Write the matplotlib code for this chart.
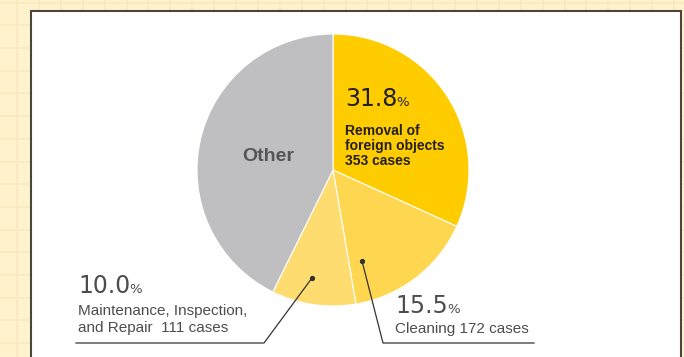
import numpy as np
import matplotlib
matplotlib.use("Agg")
import matplotlib.pyplot as plt
from matplotlib.patches import Rectangle

# share of cases by type of work (%), and case counts
categories = ["Removal of foreign objects", "Cleaning",
              "Maintenance, Inspection, and Repair", "Other"]
shares = [31.8, 15.5, 10.0, 42.7]
cases = [353, 172, 111, 474]
colors = ["#FFCC00", "#FFD64F", "#FFDC70", "#BFBFC1"]

W, H = 684, 357
plt.rcParams["font.family"] = ["Liberation Sans", "DejaVu Sans"]

fig = plt.figure(figsize=(W / 100, H / 100), dpi=100, facecolor="#FFF2CC")
ax = fig.add_axes([0, 0, 1, 1])
ax.set_facecolor("#FFF2CC")


def yy(y):
    # pixel row from the top -> data y
    return H - y


# background grid paper
for x in np.arange(17, W, 21.9):
    ax.plot([x, x], [0, H], color="#F8E9BE", lw=1.2, zorder=0)
for y in np.arange(2.6, H, 22.7):
    ax.plot([0, W], [yy(y), yy(y)], color="#F8E9BE", lw=1.2, zorder=0)

# white card with a dark frame
ax.add_patch(Rectangle((31, -5), 650, yy(11) + 5, facecolor="white",
                       edgecolor="#4A463E", lw=1.5, zorder=1))

wedges, _ = ax.pie(shares, colors=colors, startangle=90, counterclock=False,
                   center=(333, yy(170)), radius=136,
                   wedgeprops=dict(edgecolor="white", linewidth=0.8))
for w in wedges:
    w.set_zorder(2)

ax.set_xlim(0, W)
ax.set_ylim(0, H)
ax.set_aspect("auto")
ax.axis("off")

fig.canvas.draw()
renderer = fig.canvas.get_renderer()


def big_pct(x, y, value, color):
    t = ax.text(x, yy(y), f"{value:.1f}", fontsize=17, color=color,
                family="DejaVu Sans", va="baseline", ha="left", zorder=5)
    bb = t.get_window_extent(renderer).transformed(ax.transData.inverted())
    ax.text(bb.x1 - 1, yy(y), "%", fontsize=9.5, color=color,
            family="DejaVu Sans", va="baseline", ha="left", zorder=5)


# removal of foreign objects (inside the slice)
big_pct(345, 106, shares[0], "#231F20")
for i, line in enumerate(["Removal of", "foreign objects", f"{cases[0]} cases"]):
    ax.text(345, yy(135 + 15 * i), line, fontsize=10, fontweight="bold",
            color="#231F20", va="baseline", ha="left", zorder=5)

# other
ax.text(268, yy(161), categories[3], fontsize=14, fontweight="bold",
        color="#555555", va="baseline", ha="center", zorder=5)

# maintenance, inspection and repair
big_pct(78, 293, shares[2], "#4D4D4D")
ax.text(78, yy(315), "Maintenance, Inspection,", fontsize=11,
        color="#4D4D4D", va="baseline", ha="left", zorder=5)
ax.text(78, yy(332), f"and Repair  {cases[2]} cases", fontsize=11,
        color="#4D4D4D", va="baseline", ha="left", zorder=5)
ax.plot([76, 264, 312], [yy(343), yy(343), yy(278)], color="#333333",
        lw=0.9, zorder=4)
ax.plot(312, yy(278), "o", color="#333333", ms=2.8, zorder=4)

# cleaning
big_pct(395, 313, shares[1], "#4D4D4D")
ax.text(395, yy(333), f"Cleaning {cases[1]} cases", fontsize=11,
        color="#4D4D4D", va="baseline", ha="left", zorder=5)
ax.plot([534, 383, 362], [yy(343), yy(343), yy(261)], color="#333333",
        lw=0.9, zorder=4)
ax.plot(362, yy(261), "o", color="#333333", ms=2.8, zorder=4)

fig.savefig("out.png", dpi=100, facecolor=fig.get_facecolor())
